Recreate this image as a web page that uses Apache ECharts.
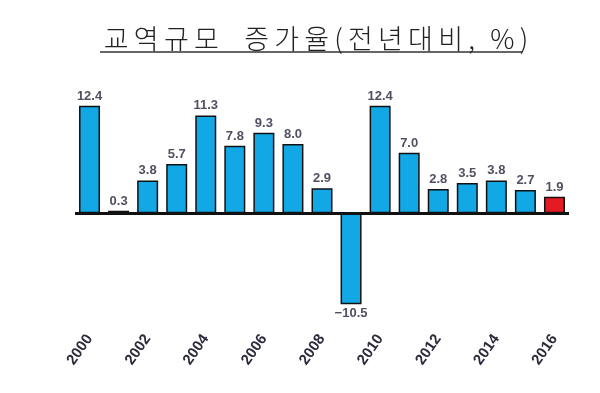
<!DOCTYPE html>
<html>
<head>
<meta charset="utf-8">
<script src="https://cdn.jsdelivr.net/npm/echarts@6/dist/echarts.min.js"></script>
<style>html,body{margin:0;padding:0;background:#fff;}#c{width:600px;height:393px;}</style>
</head>
<body>
<div id="c"></div>
<script>
const titleText = '교역규모  증가율(전년대비, %)';
const years = ['2000','2001','2002','2003','2004','2005','2006','2007','2008','2009','2010','2011','2012','2013','2014','2015','2016'];
const growth = [12.4, 0.3, 3.8, 5.7, 11.3, 7.8, 9.3, 8.0, 2.9, -10.5, 12.4, 7.0, 2.8, 3.5, 3.8, 2.7, 1.9];
const highlightYear = '2016';

const chart = echarts.init(document.getElementById('c'), null, {renderer: 'canvas'});
const blue = '#12a8e6';
const red = '#e41b23';

const data = growth.map((v, i) => ({
  value: v,
  itemStyle: { color: years[i] === highlightYear ? red : blue },
  label: { position: v < 0 ? 'bottom' : 'top' }
}));

// spaced title characters (rich text) to mimic the wide glyph spacing
const titleRich = titleText.split('').map(ch => ch === ' ' ? '{s| }' : '{c|' + ch + '}').join('');

chart.setOption({
  animation: false,
  backgroundColor: '#fff',
  title: {
    text: titleRich,
    left: 311,
    top: 20,
    textAlign: 'center',
    textStyle: {
      rich: {
        c: { fontFamily: 'Noto Sans CJK KR', fontSize: 27, fontWeight: 300, color: '#222', padding: [0, 2.6] },
        s: { fontFamily: 'Noto Sans CJK KR', fontSize: 27, color: '#222', padding: [0, 2] }
      }
    }
  },
  graphic: [{
    type: 'line',
    shape: { x1: 100, y1: 52, x2: 522, y2: 52 },
    style: { stroke: '#333', lineWidth: 1.6 }
  }],
  grid: { left: 75, right: 31, top: 92, height: 234 },
  xAxis: {
    type: 'category',
    data: years,
    axisLine: { show: false },
    axisTick: { show: false },
    axisLabel: {
      interval: 1,
      rotate: 55,
      margin: 10,
      fontFamily: 'Liberation Sans',
      fontSize: 15,
      fontWeight: 'bold',
      color: '#2b2b3c'
    }
  },
  yAxis: {
    type: 'value',
    min: -13,
    max: 14,
    show: false,
    splitLine: { show: false }
  },
  series: [{
    type: 'bar',
    data: data,
    barWidth: 21,
    itemStyle: { borderColor: '#111', borderWidth: 1.5 },
    label: {
      show: true,
      distance: 3,
      fontFamily: 'Liberation Sans',
      fontSize: 13,
      fontWeight: 'bold',
      color: '#505062',
      formatter: p => p.value.toFixed(1).replace('-', '−')
    },
    markLine: {
      silent: true,
      symbol: 'none',
      label: { show: false },
      lineStyle: { color: '#111', width: 3, type: 'solid' },
      data: [{ yAxis: 0 }]
    }
  }]
});
</script>
</body>
</html>
